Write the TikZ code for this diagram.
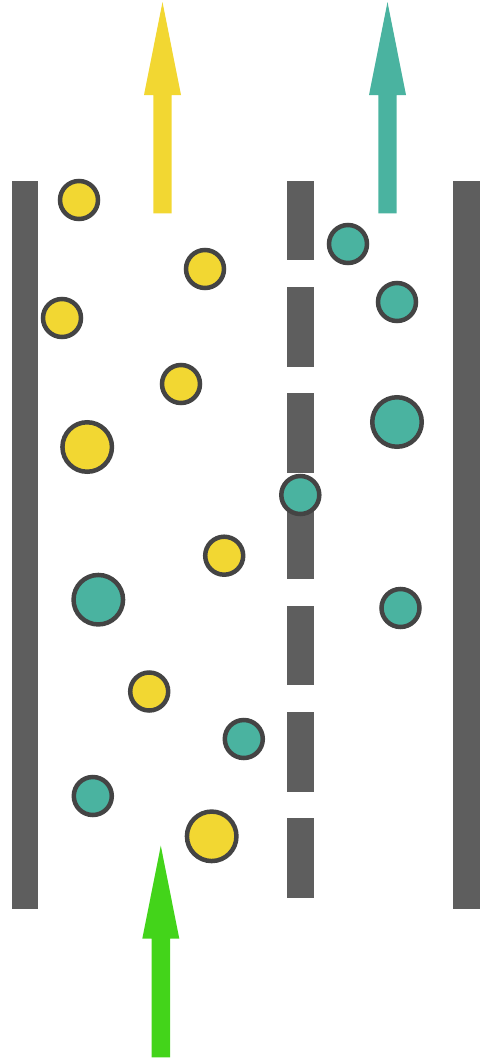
\documentclass[tikz,border=0pt]{standalone}
\definecolor{wallgray}{HTML}{5E5E5E}
\definecolor{rimgray}{HTML}{444444}
\definecolor{yel}{HTML}{F2D732}
\definecolor{teal2}{HTML}{4AB3A0}
\definecolor{grn}{HTML}{43D41A}
\tikzset{
  wall/.style={fill=wallgray, draw=none},
  ball/.style={circle, draw=rimgray, line width=4.5pt, inner sep=0pt, minimum size=38pt},
  bigball/.style={ball, minimum size=49.5pt},
  yball/.style={fill=yel},
  tball/.style={fill=teal2},
}
\begin{document}
\begin{tikzpicture}[x=1pt,y=-1pt]
\useasboundingbox (0,0) rectangle (480,1058);
% walls
\fill[wall] (11.7,181) rectangle (38.3,909.3);
\fill[wall] (453,181) rectangle (480,909.3);
\foreach \a/\b in {181/260.3, 287/366.5, 393.3/473, 499.5/579.3, 606/685, 712.3/792, 818/898.3}
  \fill[wall] (287.3,\a) rectangle (313.7,\b);
% arrows
\fill[yel] (162.5,2) -- (181,95) -- (171.7,95) -- (171.7,213.3) -- (153.3,213.3) -- (153.3,95) -- (144,95) -- cycle;
\fill[teal2] (387.5,2) -- (406,95) -- (396.7,95) -- (396.7,213.3) -- (378.3,213.3) -- (378.3,95) -- (369,95) -- cycle;
\fill[grn] (160.8,845.7) -- (179.3,938.7) -- (170,938.7) -- (170,1057.3) -- (151.7,1057.3) -- (151.7,938.7) -- (142.3,938.7) -- cycle;
% yellow particles
\node[ball,yball] (y1) at (79,200) {};
\node[ball,yball] (y2) at (205,269) {};
\node[ball,yball] (y3) at (62,318) {};
\node[ball,yball] (y4) at (181,384) {};
\node[bigball,yball] (y5) at (87.2,447) {};
\node[ball,yball] (y6) at (224.2,555.7) {};
\node[ball,yball] (y7) at (149.2,691.5) {};
\node[bigball,yball] (y8) at (211.7,836.3) {};
% teal particles
\node[ball,tball] (t1) at (348,244) {};
\node[ball,tball] (t2) at (397,302) {};
\node[bigball,tball] (t3) at (397,422) {};
\node[ball,tball] (t4) at (300.3,495) {};
\node[bigball,tball] (t5) at (98.3,599.7) {};
\node[ball,tball] (t6) at (400.5,608) {};
\node[ball,tball] (t7) at (243.8,739) {};
\node[ball,tball] (t8) at (92.8,796) {};
\end{tikzpicture}
\end{document}
